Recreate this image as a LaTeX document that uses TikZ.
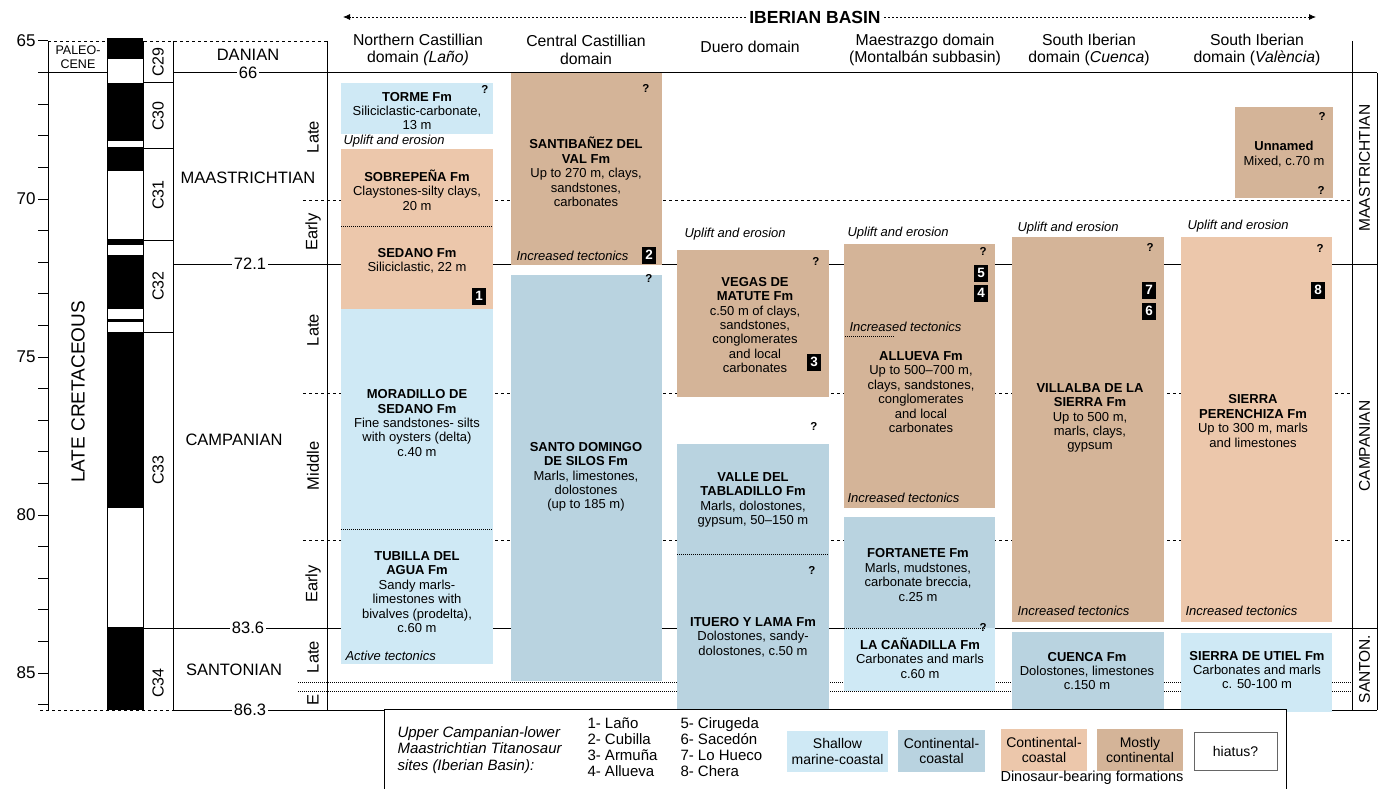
\documentclass[tikz,border=0pt]{standalone}
\usepackage{fontspec}
\setmainfont{Liberation Sans}
\usetikzlibrary{arrows.meta}

\definecolor{shallowc}{RGB}{207,233,245}
\definecolor{coastc}{RGB}{185,211,224}
\definecolor{peachc}{RGB}{236,199,171}
\definecolor{contc}{RGB}{212,180,152}

\tikzset{
  fm/.style={align=center,inner sep=0pt,font=\fontsize{13}{14.4}\selectfont},
  note/.style={anchor=west,inner sep=0pt,font=\fontsize{13}{14}\selectfont\itshape},
  qm/.style={inner sep=0pt,font=\fontsize{11.5}{12}\selectfont\bfseries},
  badge/.style={fill=black,text=white,inner sep=0pt,minimum width=14pt,minimum height=17pt,font=\fontsize{13.5}{14}\selectfont\bfseries},
  hd/.style={align=center,inner sep=0pt,font=\fontsize{15.8}{17.5}\selectfont},
  stage/.style={inner sep=0pt,font=\fontsize{16.5}{17}\selectfont},
  sub/.style={rotate=90,inner sep=0pt,font=\fontsize{16.5}{17}\selectfont},
  age/.style={fill=white,inner sep=1.5pt,font=\fontsize{16.5}{17}\selectfont},
  chron/.style={rotate=90,inner sep=0pt,font=\fontsize{16}{16}\selectfont},
  subline/.style={line width=0.8pt,dash pattern=on 3pt off 3pt},
  fineline/.style={line width=0.7pt,dash pattern=on 1pt off 1pt},
  basinarrow/.style={line width=0.8pt,dash pattern=on 2pt off 2pt,-{Latex[length=7pt,width=6pt]}},
  lg/.style={inner sep=0pt,font=\fontsize{15}{16.5}\selectfont},
  swatch/.style={align=center,inner sep=0pt,font=\fontsize{14}{15.5}\selectfont}
}

\begin{document}
\begin{tikzpicture}[x=1pt,y=-1pt,line width=1pt]
\useasboundingbox (0,0) rectangle (1381,789);

% time axis
\draw (48,41) -- (48,710);
\foreach \t in {0,...,21}
  \draw (38,{41+\t*31.6}) -- (48,{41+\t*31.6});
\foreach \a/\y in {65/41,70/199,75/357,80/515,85/673}
  \node[anchor=east,inner sep=0pt,font=\fontsize{17}{17}\selectfont] (ax\a) at (36,\y) {\a};

% era, polarity and chrons
\draw[subline] (48,41) -- (327,41);
\draw[subline] (40,710) -- (173,710);
\draw (38,73) -- (107,73);
\node[align=center,inner sep=0pt,font=\fontsize{12.5}{13.5}\selectfont] (paleo) at (78,57) {PALEO-\\CENE};
\node[rotate=90,inner sep=0pt,font=\fontsize{19}{19}\selectfont] (latecret) at (78,392) {LATE CRETACEOUS};
\foreach \a/\b in {38/59,83/141,147/171,239/245,255/309,319/322,332/508,627/710}
  \fill (107,\a) rectangle (143,\b);
\draw (107,41) -- (107,710);
\draw (143,41) -- (143,710);
\draw (173,41) -- (173,710);
\draw (327,41) -- (327,710);
\foreach \y in {83,149,240,332}
  \draw (143,\y) -- (173,\y);
\foreach \c/\y in {29/62,30/116,31/195,32/286,33/470,34/683}
  \node[chron] (chr\c) at (158,\y) {C\c};

% stage boundaries
\draw (173,73) -- (1377,73);
\draw (173,264) -- (1377,264);
\draw (143,628) -- (1377,628);
\draw (173,710) -- (1377,710);
\draw (1352,41) -- (1352,710);
\draw (1377,73) -- (1377,710);
\foreach \y in {200,393,540}
  \draw[subline] (303,\y) -- (1352,\y);
\foreach \y in {682,691}
  \draw[fineline] (298,\y) -- (1352,\y);
\node[age] (b66) at (248,73) {66};
\node[age] (b721) at (250,264) {72.1};
\node[age] (b836) at (248,628) {83.6};
\node[age] (b863) at (250,710) {86.3};
\node[stage] (danian) at (248,55) {DANIAN};
\node[stage] (maas) at (248,178) {MAASTRICHTIAN};
\node[stage] (camp) at (234,440) {CAMPANIAN};
\node[stage] (sant) at (234,670) {SANTONIAN};
\node[sub] (mlate) at (313,137) {Late};
\node[sub] (mearly) at (313,232) {Early};
\node[sub] (clate) at (313,330) {Late};
\node[sub] (cmid) at (313,466) {Middle};
\node[sub] (cearly) at (313,584) {Early};
\node[sub] (slate) at (313,657) {Late};
\node[sub] (searly) at (313,700) {E};
\node[chron,font=\fontsize{15.5}{16}\selectfont] (rmaas) at (1364.5,168) {MAASTRICHTIAN};
\node[chron,font=\fontsize{15.5}{16}\selectfont] (rcamp) at (1364.5,446) {CAMPANIAN};
\node[chron,font=\fontsize{15.5}{16}\selectfont] (rsant) at (1364.5,669) {SANTON.};

% header
\node[inner sep=3pt,font=\fontsize{17.5}{18}\selectfont\bfseries] (basin) at (815,17) {IBERIAN BASIN};
\coordinate (bl) at (343,17);
\coordinate (br) at (1316,17);
\draw[basinarrow] (basin.west) -- (bl);
\draw[basinarrow] (basin.east) -- (br);
\node[hd] (dom1) at (418,50) {Northern Castillian\\domain \textit{(Laño)}};
\node[hd] (dom2) at (586,50) {Central Castillian\\domain};
\node[hd] (dom3) at (750,47) {Duero domain};
\node[hd] (dom4) at (925,50) {Maestrazgo domain\\(Montalbán subbasin)};
\node[hd] (dom5) at (1089,50) {South Iberian\\domain (\textit{Cuenca})};
\node[hd] (dom6) at (1257,50) {South Iberian\\domain (\textit{València})};

% formations
\fill[shallowc] (341,83) rectangle (493,134);
\fill[peachc] (341,149) rectangle (493,309);
\fill[shallowc] (341,309) rectangle (493,664);
\fill[contc] (511,73) rectangle (662,265);
\fill[coastc] (511,275) rectangle (662,681);
\fill[contc] (677,250) rectangle (829,397);
\fill[coastc] (677,444) rectangle (829,712);
\fill[contc] (844,244) rectangle (995,508);
\fill[coastc] (844,517) rectangle (995,628);
\fill[shallowc] (844,628) rectangle (995,691);
\fill[contc] (1012,237) rectangle (1164,622);
\fill[coastc] (1012,632) rectangle (1164,712);
\fill[contc] (1235,107) rectangle (1333,198);
\fill[peachc] (1181,237) rectangle (1332,622);
\fill[shallowc] (1181,633) rectangle (1332,712);
\draw[fineline] (341,226) -- (493,226);
\draw[fineline] (341,529) -- (493,529);
\draw[fineline] (677,554) -- (829,554);
\draw[fineline] (844,628) -- (985,628);
\draw[fineline] (845,336) -- (895,336);

\node[fm] (torme) at (417,111) {\textbf{TORME Fm}\\Siliciclastic-carbonate,\\13 m};
\node[fm] (sobre) at (417,190) {\textbf{SOBREPEÑA Fm}\\Claystones-silty clays,\\20 m};
\node[fm] (sedano) at (417,261) {\textbf{SEDANO Fm}\\Siliciclastic, 22 m};
\node[fm] (morad) at (417,423) {\textbf{MORADILLO DE}\\\textbf{SEDANO Fm}\\Fine sandstones- silts\\with oysters (delta)\\c.40 m};
\node[fm] (tubilla) at (417,592) {\textbf{TUBILLA DEL}\\\textbf{AGUA Fm}\\Sandy marls-\\limestones with\\bivalves (prodelta),\\c.60 m};
\node[fm] (santib) at (586,172) {\textbf{SANTIBAÑEZ DEL}\\\textbf{VAL Fm}\\Up to 270 m, clays,\\sandstones,\\carbonates};
\node[fm] (santod) at (586,477) {\textbf{SANTO DOMINGO}\\\textbf{DE SILOS Fm}\\Marls, limestones,\\dolostones\\(up to 185 m)};
\node[fm] (vegas) at (755,325) {\textbf{VEGAS DE}\\\textbf{MATUTE Fm}\\c.50 m of clays,\\sandstones,\\conglomerates\\and local\\carbonates};
\node[fm] (valle) at (753,500) {\textbf{VALLE DEL}\\\textbf{TABLADILLO Fm}\\Marls, dolostones,\\gypsum, 50–150 m};
\node[fm] (ituero) at (753,637) {\textbf{ITUERO Y LAMA Fm}\\Dolostones, sandy-\\dolostones, c.50 m};
\node[fm] (allueva) at (921,392) {\textbf{ALLUEVA Fm}\\Up to 500–700 m,\\clays, sandstones,\\conglomerates\\and local\\carbonates};
\node[fm] (fortan) at (918,575) {\textbf{FORTANETE Fm}\\Marls, mudstones,\\carbonate breccia,\\c.25 m};
\node[fm] (canad) at (920,658) {\textbf{LA CAÑADILLA Fm}\\Carbonates and marls\\c.60 m};
\node[fm] (villalba) at (1090,418) {\textbf{VILLALBA DE LA}\\\textbf{SIERRA Fm}\\Up to 500 m,\\marls, clays,\\gypsum};
\node[fm] (cuenca) at (1087,671) {\textbf{CUENCA Fm}\\Dolostones, limestones\\c.150 m};
\node[fm] (unnamed) at (1284,154) {\textbf{Unnamed}\\Mixed, c.70 m};
\node[fm] (perench) at (1253,421) {\textbf{SIERRA}\\\textbf{PERENCHIZA Fm}\\Up to 300 m, marls\\and limestones};
\node[fm] (utiel) at (1257,670) {\textbf{SIERRA DE UTIEL Fm}\\Carbonates and marls\\c. 50-100 m};

% notes, question marks and sites
\node[note] (up1) at (343,141) {Uplift and erosion};
\node[note] (up3) at (684,234) {Uplift and erosion};
\node[note] (up4) at (847,233) {Uplift and erosion};
\node[note] (up5) at (1017,228) {Uplift and erosion};
\node[note] (up6) at (1187,226) {Uplift and erosion};
\node[note] (tec2) at (516,256) {Increased tectonics};
\node[note] (tec4a) at (849,327) {Increased tectonics};
\node[note] (tec4b) at (847,498) {Increased tectonics};
\node[note] (tec5) at (1017,611) {Increased tectonics};
\node[note] (tec6) at (1185,611) {Increased tectonics};
\node[note] (act1) at (345,656) {Active tectonics};
\foreach \x/\y [count=\i] in {485/89,646/88,649/278,816/261,814/426,812/570,983/251,983/627,1150/247,1320/248,1322/116,1321/190}
  \node[qm] (q\i) at (\x,\y) {?};
\foreach \n/\x/\y in {1/479/296,2/649/255,3/814/362,5/981/273,4/981/293,7/1149/290,6/1149/311,8/1318/290}
  \node[badge] (site\n) at (\x,\y) {\n};

% legend
\fill[white] (384,709) rectangle (1286,789);
\draw (384,789) |- (1286,709) -- (1286,789);
\node[lg,align=left,anchor=west] (lgtitle) at (397,750) {\itshape Upper Campanian-lower\\\itshape Maastrichtian Titanosaur\\\itshape sites (Iberian Basin):};
\node[lg,align=left,anchor=west,font=\fontsize{15}{16}\selectfont] (lgsites1) at (587,747) {1- Laño\\2- Cubilla\\3- Armuña\\4- Allueva};
\node[lg,align=left,anchor=west,font=\fontsize{15}{16}\selectfont] (lgsites2) at (680,747) {5- Cirugeda\\6- Sacedón\\7- Lo Hueco\\8- Chera};
\node[swatch,fill=shallowc,minimum width=101pt,minimum height=41pt] (lgshallow) at (837.5,751.5) {Shallow\\marine-coastal};
\node[swatch,fill=coastc,minimum width=87pt,minimum height=42pt] (lgcoast) at (941.5,751) {Continental-\\coastal};
\node[swatch,fill=peachc,minimum width=86pt,minimum height=42pt] (lgpeach) at (1044,750) {Continental-\\coastal};
\node[swatch,fill=contc,minimum width=86pt,minimum height=42pt] (lgcont) at (1140,750) {Mostly\\continental};
\node[swatch,draw=black!60,line width=0.7pt,minimum width=83pt,minimum height=38pt] (lghiatus) at (1235.5,751) {hiatus?};
\node[lg,font=\fontsize{14.5}{15}\selectfont] (lgdino) at (1092,778) {Dinosaur-bearing formations};
\end{tikzpicture}
\end{document}
